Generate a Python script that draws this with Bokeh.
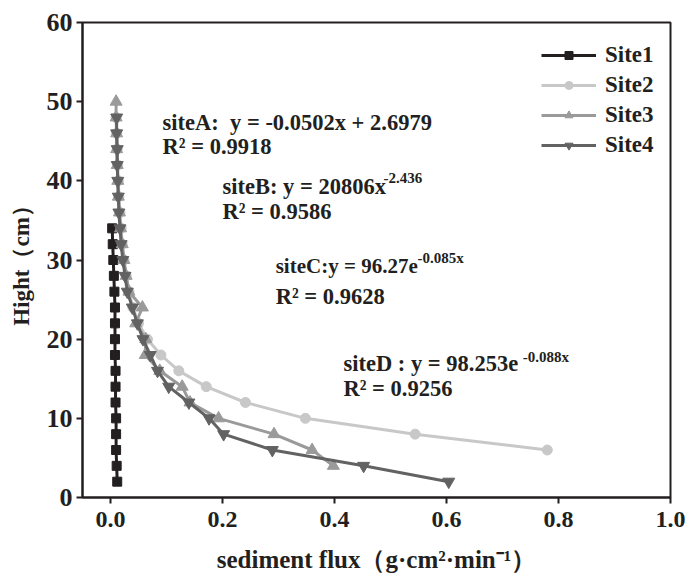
from bokeh.plotting import figure
from bokeh.models import Label, Legend, LegendItem, FixedTicker
from bokeh.embed import file_html
from bokeh.resources import INLINE

# ---- data ----
site1_y = [34, 32, 30, 28, 26, 24, 22, 20, 18, 16, 14, 12, 10, 8, 6, 4, 2]
site1_x = [0.003, 0.004, 0.005, 0.006, 0.007, 0.008, 0.008, 0.008, 0.008, 0.009,
           0.009, 0.009, 0.010, 0.010, 0.010, 0.011, 0.012]

site2_y = [48, 46, 44, 42, 40, 38, 36, 34, 32, 30, 28, 26, 24, 22, 20, 18, 16, 14, 12, 10, 8, 6]
site2_x = [0.010, 0.011, 0.012, 0.013, 0.014, 0.015, 0.017, 0.019, 0.021, 0.024, 0.028,
           0.033, 0.040, 0.050, 0.066, 0.090, 0.122, 0.171, 0.241, 0.348, 0.544, 0.780]

site3_y = [50, 48, 46, 44, 42, 40, 38, 36, 34, 32, 30, 28, 26, 24, 22, 20, 18, 16, 14, 12, 10, 8, 6, 4]
site3_x = [0.010, 0.010, 0.011, 0.011, 0.012, 0.013, 0.014, 0.016, 0.018, 0.021, 0.024,
           0.028, 0.033, 0.057, 0.045, 0.063, 0.062, 0.088, 0.128, 0.142, 0.193, 0.292,
           0.360, 0.398]

site4_y = [48, 46, 44, 42, 40, 38, 36, 34, 32, 30, 28, 26, 24, 22, 20, 18, 16, 14, 12, 10, 8, 6, 4, 2]
site4_x = [0.011, 0.011, 0.012, 0.012, 0.013, 0.014, 0.015, 0.017, 0.019, 0.022, 0.026,
           0.030, 0.039, 0.048, 0.058, 0.071, 0.084, 0.104, 0.140, 0.176, 0.202, 0.289,
           0.452, 0.604]

series_names = ["Site1", "Site2", "Site3", "Site4"]
x_ticks = [0.0, 0.2, 0.4, 0.6, 0.8, 1.0]
y_ticks = [0, 10, 20, 30, 40, 50, 60]

FONT = "Liberation Serif"
INK = "#231f20"

p = figure(width=686, height=583, output_backend="svg", toolbar_location=None,
           x_range=(-0.05, 1.0), y_range=(0, 60),
           min_border_left=82, min_border_right=16, min_border_top=22, min_border_bottom=86)
p.grid.visible = False
p.outline_line_color = INK
p.outline_line_width = 2
p.background_fill_color = "white"
p.border_fill_color = "white"

for ax in (p.xaxis[0], p.yaxis[0]):
    ax.axis_line_color = INK
    ax.axis_line_width = 2
    ax.major_tick_line_color = INK
    ax.major_tick_line_width = 2
    ax.major_tick_out = 6
    ax.major_tick_in = 0
    ax.minor_tick_line_color = None
    ax.major_label_text_font = FONT
    ax.major_label_text_font_style = "bold"
    ax.major_label_text_color = INK
    ax.axis_label_text_font = FONT
    ax.axis_label_text_font_style = "bold"
    ax.axis_label_text_color = INK

p.xaxis.major_label_text_font_size = "24px"
p.yaxis.major_label_text_font_size = "26px"
p.xaxis.axis_label_text_font_size = "25px"
p.yaxis.axis_label_text_font_size = "23px"
p.xaxis.ticker = FixedTicker(ticks=x_ticks)
p.yaxis.ticker = FixedTicker(ticks=y_ticks)
p.xaxis.major_label_overrides = {t: f"{t:.1f}" for t in x_ticks}
p.xaxis.axis_label = "sediment flux（g·cm²·min⁻¹）"
p.yaxis.axis_label = "Hight（cm）"
p.xaxis.major_label_standoff = 8
p.xaxis.axis_label_standoff = 16
p.yaxis.major_label_standoff = 4
p.yaxis.axis_label_standoff = 10

colors = [INK, "#c8c8c8", "#9a9a9a", "#626262"]
markers = ["square", "circle", "triangle", "inverted_triangle"]
sizes = [9, 10, 12, 12]
data = [(site1_x, site1_y), (site2_x, site2_y), (site3_x, site3_y), (site4_x, site4_y)]

items = []
for name, (xs, ys), c, m, s in zip(series_names, data, colors, markers, sizes):
    r1 = p.line(xs, ys, line_color=c, line_width=3)
    r2 = p.scatter(xs, ys, marker=m, size=s, fill_color=c, line_color=c)
    items.append(LegendItem(label=name, renderers=[r1, r2]))

legend = Legend(items=items, location=(459, 339), glyph_width=55, glyph_height=20,
                label_height=20, spacing=4, padding=0, margin=0, label_standoff=9,
                background_fill_alpha=0, border_line_alpha=0,
                label_text_font=FONT, label_text_font_style="bold",
                label_text_font_size="23px", label_text_color=INK)
p.add_layout(legend)

def lab(x, y, text, size="22.5px"):
    p.add_layout(Label(x=x, y=y, text=text, text_font=FONT, text_font_style="bold",
                       text_font_size=size, text_color=INK,
                       text_baseline="middle", text_align="left"))

lab(0.093, 47.4, "siteA:\u00a0 y = -0.0502x + 2.6979")
lab(0.093, 44.3, "R² = 0.9918")
lab(0.200, 39.3, "siteB: y = 20806x")
lab(0.4875, 40.4, "-2.436", "15px")
lab(0.200, 36.1, "R² = 0.9586")
lab(0.295, 29.2, "siteC:y = 96.27e", "21px")
lab(0.548, 30.2, "-0.085x", "15px")
lab(0.295, 25.4, "R² = 0.9628")
lab(0.416, 16.9, "siteD : y = 98.253e")
lab(0.736, 17.7, "-0.088x", "15px")
lab(0.416, 13.8, "R² = 0.9256")

open("out.html", "w").write(file_html(p, INLINE))
